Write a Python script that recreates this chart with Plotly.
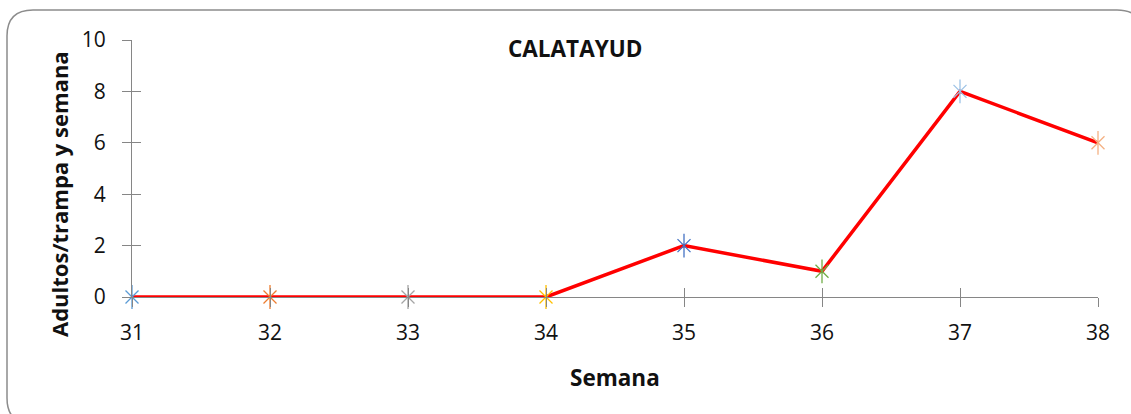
import plotly.graph_objects as go

# ---- data ----
semanas = [31, 32, 33, 34, 35, 36, 37, 38]
adultos = [0, 0, 0, 0, 2, 1, 8, 6]
marker_colors = ["#5B9BD5", "#ED7D31", "#A5A5A5", "#FFC000",
                 "#4472C4", "#70AD47", "#9DC3E6", "#F4B183"]
y_ticks = [0, 2, 4, 6, 8, 10]
title_text = "CALATAYUD"
x_title = "Semana"
y_title = "Adultos/trampa y semana"

W, H = 1131, 414
L, R, T, B = 132, 1098, 40, 297  # plot area in pixels


def px(xp):
    return (xp - L) / (R - L)


def py(yp):
    return (B - yp) / (B - T)


fig = go.Figure()
fig.add_trace(go.Scatter(
    x=semanas, y=adultos, mode="lines",
    line=dict(color="#FF0000", width=3.5),
    cliponaxis=False, hoverinfo="skip", showlegend=False))
fig.add_trace(go.Scatter(
    x=semanas, y=adultos, mode="markers",
    marker=dict(symbol="x-thin-open", size=13, color=marker_colors,
                line=dict(width=1.3)),
    cliponaxis=False, showlegend=False))
fig.add_trace(go.Scatter(
    x=semanas, y=adultos, mode="markers",
    marker=dict(symbol="line-ns-open", size=17, color=marker_colors,
                line=dict(width=1.3)),
    cliponaxis=False, showlegend=False))

axis_col = "#868686"
tick_font = dict(family="Open Sans", size=21, color="#111111")

fig.update_layout(
    width=W, height=H,
    margin=dict(l=L, r=W - R, t=T, b=H - B, pad=0),
    paper_bgcolor="white", plot_bgcolor="white",
    showlegend=False,
    xaxis=dict(range=[semanas[0], semanas[-1]], tickvals=semanas,
               ticktext=[str(s) for s in semanas],
               showgrid=False, zeroline=False, showline=True,
               linecolor=axis_col, linewidth=1.3,
               ticks="outside", ticklen=9, tickcolor=axis_col, tickwidth=1.3,
               tickfont=tick_font, ticklabelstandoff=8),
    yaxis=dict(range=[0, 10], tickvals=y_ticks,
               showgrid=False, zeroline=False, showline=True,
               linecolor=axis_col, linewidth=1.3,
               ticks="outside", ticklen=9, tickcolor=axis_col, tickwidth=1.3,
               tickfont=tick_font, ticklabelstandoff=12),
    xaxis2=dict(overlaying="x", anchor="y", side="bottom",
                range=[semanas[0], semanas[-1]], tickvals=semanas,
                showticklabels=False, showgrid=False, zeroline=False,
                showline=False, ticks="inside", ticklen=9,
                tickcolor=axis_col, tickwidth=1.3),
    yaxis2=dict(overlaying="y", anchor="x", side="left",
                range=[0, 10], tickvals=y_ticks,
                showticklabels=False, showgrid=False, zeroline=False,
                showline=False, ticks="inside", ticklen=9,
                tickcolor=axis_col, tickwidth=1.3),
)
# invisible trace to activate overlay axes
fig.add_trace(go.Scatter(x=[semanas[0]], y=[0], xaxis="x2", yaxis="y2",
                         mode="markers", marker=dict(opacity=0),
                         hoverinfo="skip", showlegend=False))

bold = dict(family="Open Sans", size=22.5, color="#111111")
fig.add_annotation(text="<b>%s</b>" % title_text, xref="paper", yref="paper",
                   x=px(575), y=py(48), showarrow=False, font=bold,
                   xanchor="center", yanchor="middle")
fig.add_annotation(text="<b>%s</b>" % x_title, xref="paper", yref="paper",
                   x=px(615), y=py(377), showarrow=False, font=bold,
                   xanchor="center", yanchor="middle")
fig.add_annotation(text="<b>%s</b>" % y_title, xref="paper", yref="paper",
                   x=px(59), y=py(194), showarrow=False,
                   font=dict(family="Open Sans", size=22, color="#111111"),
                   textangle=-90, xanchor="center", yanchor="middle")

# rounded chart-area border
x0, x1, y0, y1, r = 7, 1143, 10, 424, 26
path = (f"M {px(x0)},{py(y0 + r)} "
        f"Q {px(x0)},{py(y0)} {px(x0 + r)},{py(y0)} "
        f"L {px(x1 - r)},{py(y0)} "
        f"Q {px(x1)},{py(y0)} {px(x1)},{py(y0 + r)} "
        f"L {px(x1)},{py(y1 - r)} "
        f"Q {px(x1)},{py(y1)} {px(x1 - r)},{py(y1)} "
        f"L {px(x0 + r)},{py(y1)} "
        f"Q {px(x0)},{py(y1)} {px(x0)},{py(y1 - r)} Z")
fig.add_shape(type="path", path=path, xref="paper", yref="paper",
              line=dict(color="#8C8C8C", width=1.5), layer="below")

fig.write_html("out.html",
               config={"displayModeBar": False},
               post_script="document.body.style.margin='0';"
                           "document.body.style.overflow='hidden';")
